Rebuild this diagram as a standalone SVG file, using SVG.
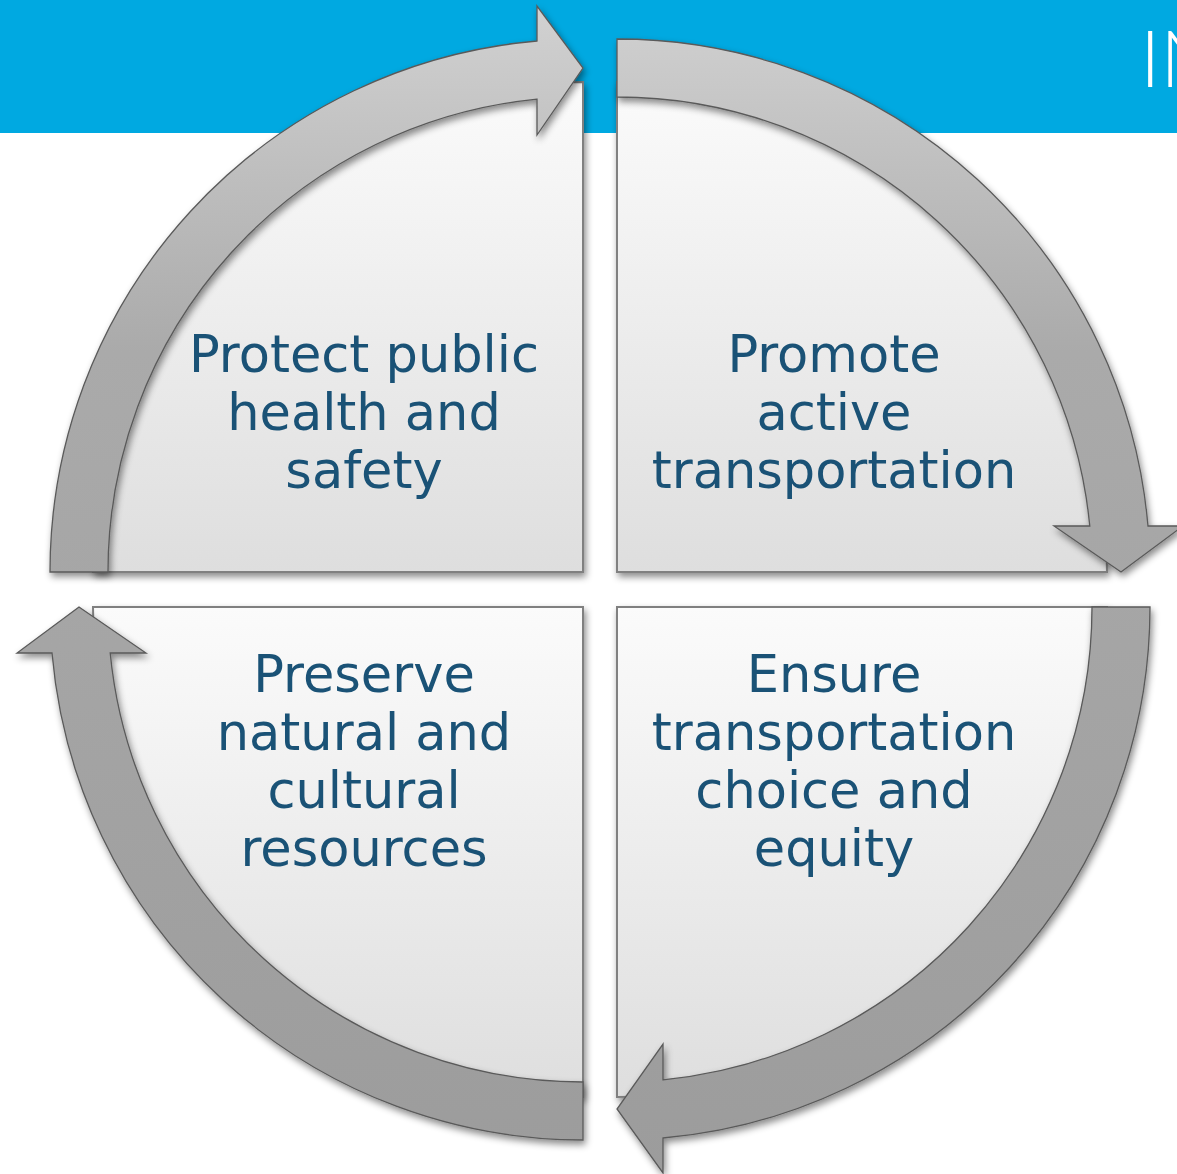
<svg xmlns="http://www.w3.org/2000/svg" width="1177" height="1174" viewBox="0 0 1177 1174">
  <defs>
    <filter id="shadow" x="-10%" y="-10%" width="120%" height="120%">
      <feDropShadow dx="2" dy="4" stdDeviation="3.5" flood-color="#000" flood-opacity="0.45"/>
    </filter>
    <linearGradient id="pieFill" x1="0" y1="0" x2="0" y2="1">
      <stop offset="0" stop-color="#fbfbfb"/>
      <stop offset="1" stop-color="#dedede"/>
    </linearGradient>
    <linearGradient id="ringFill" gradientUnits="userSpaceOnUse" x1="0" y1="0" x2="0" y2="1174">
      <stop offset="0" stop-color="#d2d2d2"/>
      <stop offset="0.3" stop-color="#aaaaaa"/>
      <stop offset="1" stop-color="#9c9c9c"/>
    </linearGradient>
  </defs>
  <style>
    .pie { fill: url(#pieFill); stroke: #808080; stroke-width: 2; }
    .ring { fill: url(#ringFill); stroke: #5a5a5a; stroke-width: 1.3; stroke-linejoin: miter; }
    .label { font-family: "DejaVu Sans", "Liberation Sans", sans-serif; font-size: 51px; fill: #1a5276; text-anchor: middle; }
    .banner { font-family: "Lato", "Liberation Sans", sans-serif; font-weight: 300; font-size: 78px; fill: #ffffff; }
  </style>

  <rect id="banner" x="0" y="0" width="1177" height="133" fill="#00a9e1"/>
  <text class="banner" x="1140" y="87">IN</text>

  <g id="node-protect" filter="url(#shadow)">
    <path class="pie" d="M583,572 L93,572 A490,490 0 0 1 583,82 Z"/>
  </g>
  <g id="node-promote" filter="url(#shadow)">
    <path class="pie" d="M617,572 L617,82 A490,490 0 0 1 1107,572 Z"/>
  </g>
  <g id="node-ensure" filter="url(#shadow)">
    <path class="pie" d="M617,607 L1107,607 A490,490 0 0 1 617,1097 Z"/>
  </g>
  <g id="node-preserve" filter="url(#shadow)">
    <path class="pie" d="M583,607 L583,1097 A490,490 0 0 1 93,607 Z"/>
  </g>

  <g id="connectors" filter="url(#shadow)">
    <path class="ring" d="M50,572 A533,533 0 0 1 537,41 L537,6 L583,68 L537,135 L537,99.2 A475,475 0 0 0 108,572 Z"/>
    <path class="ring" d="M617,39 A533,533 0 0 1 1148,526 L1183,526 L1121,572 L1054,526 L1089.8,526 A475,475 0 0 0 617,97 Z"/>
    <path class="ring" d="M1150,607 A533,533 0 0 1 663,1138 L663,1173 L617,1109 L663,1044 L663,1079.8 A475,475 0 0 0 1092,607 Z"/>
    <path class="ring" d="M583,1140 A533,533 0 0 1 52,653 L17,653 L79,607 L146,653 L110.2,653 A475,475 0 0 0 583,1082 Z"/>
  </g>

  <g id="labels">
    <text class="label" x="364" y="372">Protect public</text>
    <text class="label" x="364" y="430">health and</text>
    <text class="label" x="364" y="488">safety</text>

    <text class="label" x="834" y="372">Promote</text>
    <text class="label" x="834" y="430">active</text>
    <text class="label" x="834" y="488">transportation</text>

    <text class="label" x="364" y="692">Preserve</text>
    <text class="label" x="364" y="750">natural and</text>
    <text class="label" x="364" y="808">cultural</text>
    <text class="label" x="364" y="866">resources</text>

    <text class="label" x="834" y="692">Ensure</text>
    <text class="label" x="834" y="750">transportation</text>
    <text class="label" x="834" y="808">choice and</text>
    <text class="label" x="834" y="866">equity</text>
  </g>
</svg>
